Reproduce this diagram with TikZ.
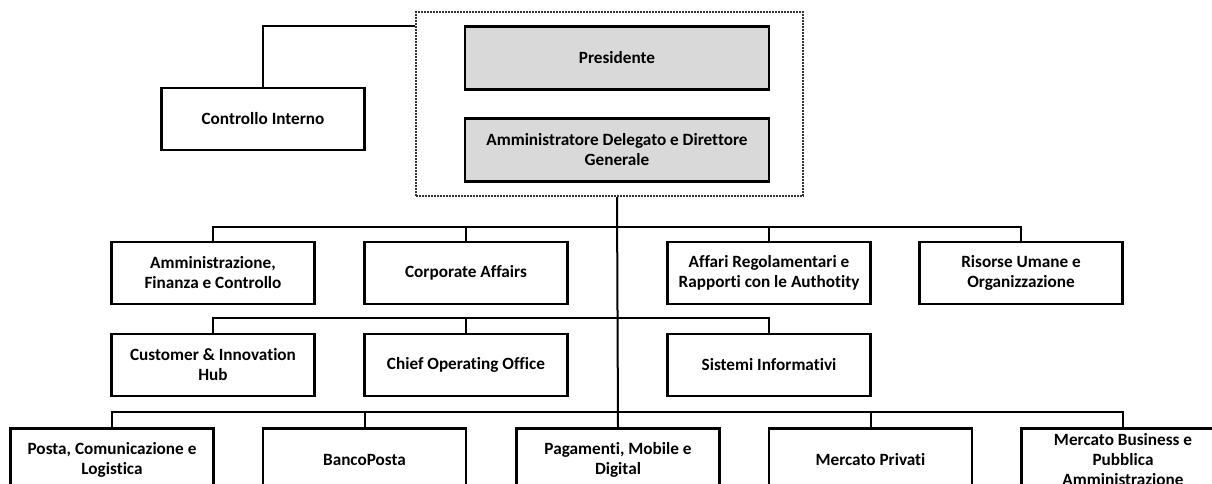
\documentclass[tikz,border=0pt]{standalone}
\usepackage{fontspec}
\setmainfont{Carlito}[Ligatures=NoCommon]
\definecolor{boardgray}{HTML}{D9D9D9}

\begin{document}
\begin{tikzpicture}[x=1pt, y=-1pt,
  unit/.style={draw, rectangle, line width=2.6pt, minimum width=203pt, minimum height=62pt, align=center, inner sep=0pt, font=\fontsize{17.2}{20}\selectfont\bfseries},
  board/.style={unit, fill=boardgray, minimum width=304pt, minimum height=63pt},
  group/.style={draw=black!80, densely dotted, line width=2pt, rectangle, minimum width=387pt, minimum height=184pt, inner sep=0pt},
  link/.style={line width=2pt}
]
\useasboundingbox (0,0) rectangle (1212,483);
\clip (0,0) rectangle (1212,483);

% Vertice aziendale
\node[group] (vertice) at (609,104) {};
\node[board] (pres) at (617,58)  {Presidente};
\node[board] (ad)   at (617,150) {Amministratore Delegato e Direttore\\Generale};

% Staff del Presidente
\node[unit] (ctrl) at (263,119) {Controllo Interno};
\draw[link] ([yshift=-15pt]vertice.north west) -| (ctrl.north);

% Funzioni di staff (prima fila)
\node[unit] (afc)  at (213,273)  {Amministrazione,\\Finanza e Controllo};
\node[unit] (corp) at (466,273)  {Corporate Affairs};
\node[unit] (areg) at (769,273)  {Affari Regolamentari e\\Rapporti con le Authotity};
\node[unit] (risu) at (1021,273) {Risorse Umane e\\Organizzazione};

% Funzioni di staff (seconda fila)
\node[unit] (cih)  at (213,365) {Customer \& Innovation\\Hub};
\node[unit] (coo)  at (466,365) {Chief Operating Office};
\node[unit] (sist) at (769,365) {Sistemi Informativi};

% Funzioni di business
\node[unit] (posta)    at (112,459.5)  {Posta, Comunicazione e\\Logistica};
\node[unit] (banco)    at (364.5,459.5) {BancoPosta};
\node[unit] (pmd)      at (618,459.5)  {Pagamenti, Mobile e\\Digital};
\node[unit] (privati)  at (870.5,459.5) {Mercato Privati};
\node[unit] (business) at (1123,459.5) {Mercato Business e\\Pubblica\\Amministrazione};

% Linea verticale principale
\draw[link] (ad.south |- vertice.south) -- (pmd.north);

% Collegamenti alle file
\coordinate (bus2) at (618,227);
\coordinate (bus3) at (618,318);
\coordinate (bus4) at (618,412);
\foreach \n in {afc,corp,areg,risu}
  \draw[link] (\n.north) |- (bus2);
\foreach \n in {cih,coo,sist}
  \draw[link] (\n.north) |- (bus3);
\foreach \n in {posta,banco,privati,business}
  \draw[link] (\n.north) |- (bus4);

\end{tikzpicture}
\end{document}
